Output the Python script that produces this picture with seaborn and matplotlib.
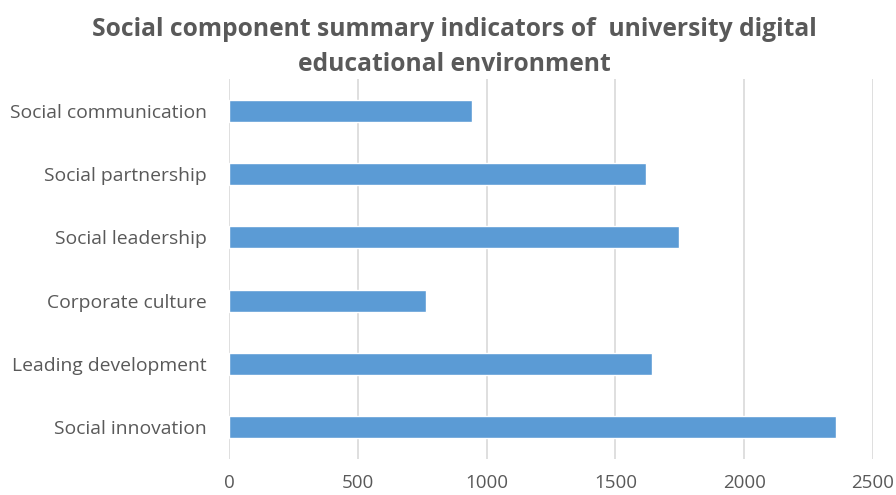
import matplotlib
matplotlib.use('Agg')
import matplotlib.pyplot as plt
import seaborn as sns
import pandas as pd

# Data
categories = [
    'Social communication',
    'Social partnership',
    'Social leadership',
    'Corporate culture',
    'Leading development',
    'Social innovation',
]
values = [945, 1617, 1747, 764, 1642, 2355]
x_ticks = [0, 500, 1000, 1500, 2000, 2500]

title = 'Social component summary indicators of  university digital\neducational environment'

sns.set_theme(style='white')
plt.rcParams['font.family'] = ['Open Sans', 'DejaVu Sans']

text_color = '#595959'
bar_color = '#5b9bd5'
grid_color = '#d9d9d9'

df = pd.DataFrame({'category': categories, 'value': values})

fig = plt.figure(figsize=(8.96, 4.95), dpi=100)
ax = fig.add_axes([0.2556, 0.0737, 0.7187, 0.7657])

sns.barplot(data=df, x='value', y='category', orient='h', color=bar_color,
            width=0.35, saturation=1, ax=ax, zorder=3)

ax.set_xlim(0, 2500)
ax.set_xticks(x_ticks)
ax.set_xticklabels([str(t) for t in x_ticks])
ax.xaxis.grid(True, color=grid_color, linewidth=1.2, zorder=0)
ax.set_axisbelow(True)
for side in ['top', 'right', 'bottom', 'left']:
    ax.spines[side].set_visible(False)
ax.set_xlabel('')
ax.set_ylabel('')
ax.tick_params(axis='x', length=0, pad=11, labelsize=13.5, labelcolor=text_color)
ax.tick_params(axis='y', length=0, pad=16, labelsize=13.9, labelcolor=text_color)

fig.suptitle(title, x=0.507, y=0.966, fontsize=17.7, fontweight='bold',
             color=text_color, linespacing=1.55, va='top')

fig.savefig('out.png', dpi=100)
plt.close(fig)
